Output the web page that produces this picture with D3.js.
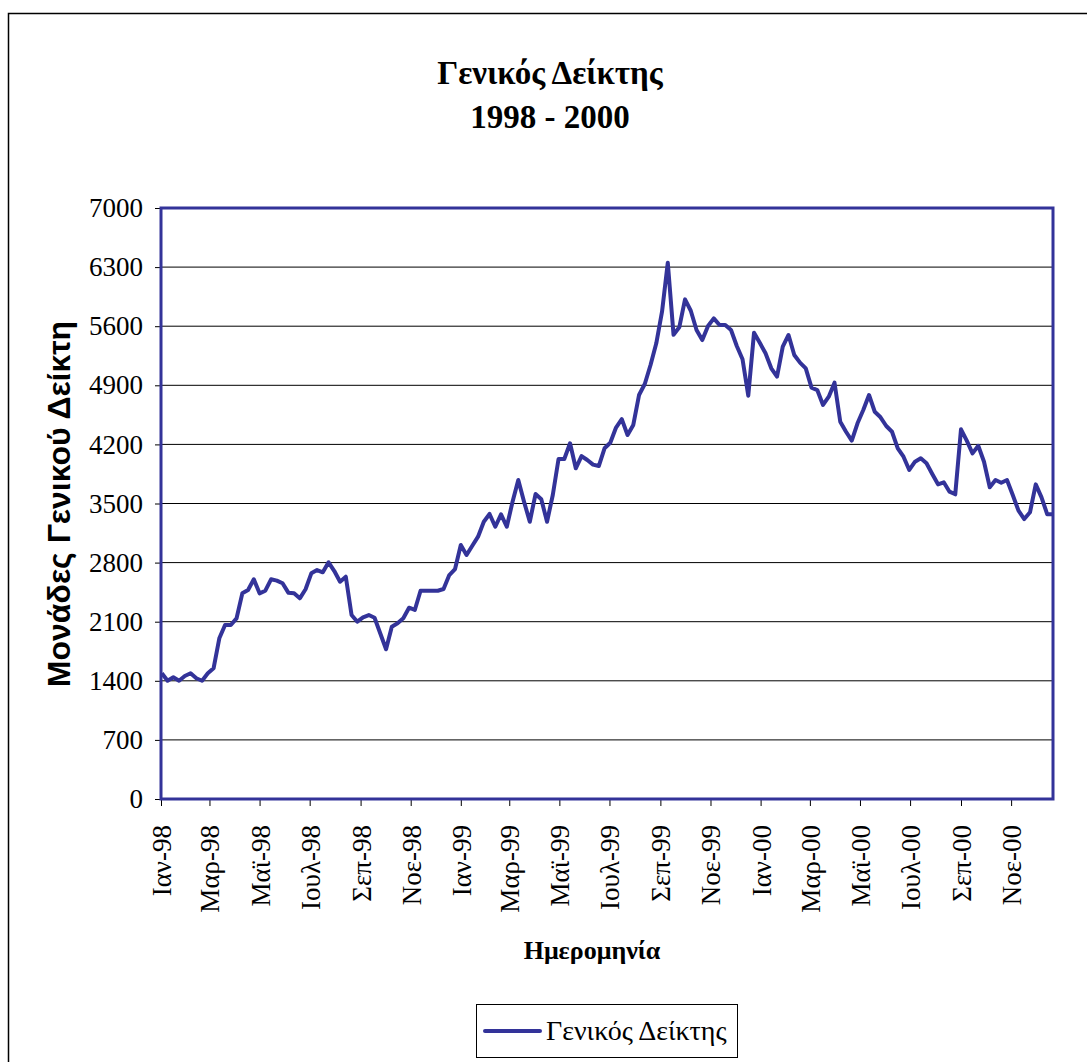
<!DOCTYPE html>
<html>
<head>
<meta charset="utf-8">
<script src="https://cdn.jsdelivr.net/npm/d3@7"></script>
<style>
  body { margin: 0; background: #fff; }
  svg { display: block; }
</style>
</head>
<body>
<div id="chart"></div>
<script>
// weekly closes, starting 2 Jan 1998
const startDate = "1998-01-02";
const endDate = "2000-12-22";
const values = [
  1489, 1401, 1441, 1401, 1457, 1489, 1430, 1401, 1489, 1548,
  1903, 2061, 2061, 2140, 2436, 2475, 2602, 2436, 2467, 2602,
  2586, 2555, 2444, 2436, 2377, 2484, 2673, 2712, 2685, 2803,
  2700, 2574, 2633, 2179, 2100, 2152, 2179, 2147, 1960, 1773,
  2041, 2081, 2140, 2266, 2239, 2467, 2467, 2467, 2467, 2487,
  2653, 2724, 3008, 2890, 3000, 3107, 3284, 3376, 3225, 3372,
  3225, 3521, 3778, 3521, 3284, 3612, 3550, 3284, 3601, 4027,
  4027, 4213, 3917, 4062, 4015, 3960, 3944, 4154, 4220, 4400,
  4500, 4311, 4430, 4785, 4915, 5140, 5397, 5772, 6352, 5499,
  5587, 5918, 5783, 5555, 5436, 5602, 5693, 5614, 5614, 5555,
  5365, 5208, 4777, 5523, 5404, 5279, 5101, 5002, 5357, 5496,
  5259, 5168, 5101, 4872, 4844, 4667, 4765, 4931, 4469, 4350,
  4244, 4450, 4607, 4785, 4587, 4521, 4418, 4350, 4154, 4054,
  3897, 3995, 4035, 3976, 3849, 3727, 3751, 3640, 3609, 4379,
  4244, 4094, 4184, 3995, 3692, 3778, 3746, 3778, 3601, 3415,
  3316, 3396, 3727, 3573, 3372, 3372
];
const yTicks = [0, 700, 1400, 2100, 2800, 3500, 4200, 4900, 5600, 6300, 7000];
const xTickDates = [
  "1998-01-01", "1998-03-01", "1998-05-01", "1998-07-01", "1998-09-01", "1998-11-01",
  "1999-01-01", "1999-03-01", "1999-05-01", "1999-07-01", "1999-09-01", "1999-11-01",
  "2000-01-01", "2000-03-01", "2000-05-01", "2000-07-01", "2000-09-01", "2000-11-01"
];
const xTickLabels = [
  "Ιαν-98", "Μαρ-98", "Μαϊ-98", "Ιουλ-98", "Σεπ-98", "Νοε-98",
  "Ιαν-99", "Μαρ-99", "Μαϊ-99", "Ιουλ-99", "Σεπ-99", "Νοε-99",
  "Ιαν-00", "Μαρ-00", "Μαϊ-00", "Ιουλ-00", "Σεπ-00", "Νοε-00"
];
const seriesName = "Γενικός Δείκτης";

const width = 1087;
const height = 1062;
const plot = { left: 161, right: 1053, top: 208, bottom: 799 };
const blue = "#333399";
const serif = "'Liberation Serif', 'Times New Roman', serif";
const sans = "'Liberation Sans', Arial, sans-serif";

const parse = d3.timeParse("%Y-%m-%d");
const start = parse(startDate);
const dataset = values.map((v, i) => ({ date: d3.timeDay.offset(start, 7 * i), value: v }));

const svg = d3.select("#chart").append("svg")
  .attr("width", width)
  .attr("height", height);

// outer chart border
svg.append("rect")
  .attr("x", 8.5).attr("y", 13.5)
  .attr("width", width + 20).attr("height", height + 20)
  .attr("fill", "#fff")
  .attr("stroke", "#000")
  .attr("stroke-width", 1.5);

const x = d3.scaleTime()
  .domain([parse("1998-01-01"), parse(endDate)])
  .range([plot.left, plot.right]);

const y = d3.scaleLinear()
  .domain([0, 7000])
  .range([plot.bottom, plot.top]);

// gridlines
svg.append("g")
  .selectAll("line")
  .data(yTicks.filter((t) => t > 0 && t < 7000))
  .join("line")
  .attr("x1", plot.left).attr("x2", plot.right)
  .attr("y1", (d) => y(d)).attr("y2", (d) => y(d))
  .attr("stroke", "#000")
  .attr("stroke-width", 1);

// y axis
const yAxis = svg.append("g")
  .attr("transform", `translate(${plot.left}, 0)`)
  .call(d3.axisLeft(y).tickValues(yTicks).tickSize(6).tickPadding(12).tickFormat(d3.format("d")));
yAxis.select(".domain").remove();
yAxis.selectAll(".tick line").attr("stroke", "#000");
yAxis.selectAll("text")
  .attr("font-family", serif)
  .attr("font-size", 27)
  .attr("fill", "#000");

// x axis
const xAxis = svg.append("g")
  .attr("transform", `translate(0, ${plot.bottom})`)
  .call(d3.axisBottom(x)
    .tickValues(xTickDates.map(parse))
    .tickSize(7)
    .tickFormat((d, i) => xTickLabels[i]));
xAxis.select(".domain").remove();
xAxis.selectAll(".tick line").attr("stroke", "#000");
xAxis.selectAll("text")
  .attr("font-family", serif)
  .attr("font-size", 27)
  .attr("fill", "#000")
  .attr("text-anchor", "end")
  .attr("transform", "rotate(-90)")
  .attr("x", -26)
  .attr("y", 0)
  .attr("dy", "0.35em");

// plot frame
svg.append("rect")
  .attr("x", plot.left).attr("y", plot.top)
  .attr("width", plot.right - plot.left)
  .attr("height", plot.bottom - plot.top)
  .attr("fill", "none")
  .attr("stroke", blue)
  .attr("stroke-width", 3);

// series
const line = d3.line()
  .x((d) => x(d.date))
  .y((d) => y(d.value));

svg.append("path")
  .datum(dataset)
  .attr("d", line)
  .attr("fill", "none")
  .attr("stroke", blue)
  .attr("stroke-width", 4)
  .attr("stroke-linejoin", "round");

// titles
const title = svg.append("text")
  .attr("text-anchor", "middle")
  .attr("font-family", serif)
  .attr("font-weight", "bold")
  .attr("font-size", 33)
  .attr("fill", "#000");
title.append("tspan").attr("x", 550).attr("y", 84).text("Γενικός Δείκτης");
title.append("tspan").attr("x", 550).attr("y", 128).text("1998 - 2000");

svg.append("text")
  .attr("transform", "translate(70, 504) rotate(-90)")
  .attr("text-anchor", "middle")
  .attr("font-family", sans)
  .attr("font-weight", "bold")
  .attr("font-size", 32)
  .attr("fill", "#000")
  .text("Μονάδες Γενικού Δείκτη");

svg.append("text")
  .attr("x", 592).attr("y", 959)
  .attr("text-anchor", "middle")
  .attr("font-family", serif)
  .attr("font-weight", "bold")
  .attr("font-size", 26)
  .attr("fill", "#000")
  .text("Ημερομηνία");

// legend
const legend = svg.append("g").attr("transform", "translate(476, 1004)");
legend.append("rect")
  .attr("x", 0.5).attr("y", 0.5)
  .attr("width", 261).attr("height", 53)
  .attr("fill", "#fff")
  .attr("stroke", "#000")
  .attr("stroke-width", 1);
legend.append("line")
  .attr("x1", 9).attr("x2", 64)
  .attr("y1", 27).attr("y2", 27)
  .attr("stroke", blue)
  .attr("stroke-width", 4)
  .attr("stroke-linecap", "round");
legend.append("text")
  .attr("x", 70).attr("y", 36)
  .attr("font-family", serif)
  .attr("font-size", 28)
  .attr("fill", "#000")
  .text(seriesName);
</script>
</body>
</html>
